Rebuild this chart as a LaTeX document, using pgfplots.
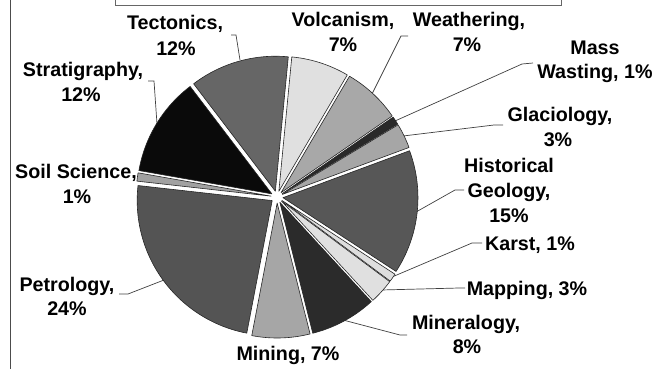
\documentclass[border=0pt]{standalone}
\usepackage{pgfplots}
\pgfplotsset{compat=1.18}
\usepackage{pgfplotstable}
\usepackage{fontspec}
\setmainfont{Liberation Sans}

% share of each topic (percent) and the grey of its slice (percent white)
\pgfplotstableread[col sep=comma]{
topic,pct,shade
Volcanism,7,88
Weathering,7,66
Mass Wasting,1,16
Glaciology,3,65
Historical Geology,15,34
Karst,1,87
Mapping,3,88
Mineralogy,8,17
Mining,7,65
Petrology,24,33
Soil Science,1,63
Stratigraphy,12,4
Tectonics,12,40
}\shares

\newcommand\lblfont{\fontsize{19.7}{24}\selectfont\bfseries}
\tikzset{
  leader/.style={draw=black!75, line width=0.7pt},
  lbl/.style={anchor=base, inner sep=0pt, font=\lblfont},
}

\begin{document}
\begin{tikzpicture}
\begin{axis}[
  scale only axis, width=668pt, height=369pt,
  xmin=0, xmax=668, ymin=0, ymax=369, y dir=reverse,
  hide axis, clip=false,
]
% pie geometry: centre, radius, explosion offset, first slice angle
\def\pcx{277}\def\pcy{197}\def\R{135}\def\explode{6}\def\startang{5.5}
\pgfplotstablegetrowsof{\shares}\pgfmathtruncatemacro\lastrow{\pgfplotsretval-1}
\def\total{0}
\pgfplotsforeachungrouped \i in {0,...,\lastrow}{%
  \pgfplotstablegetelem{\i}{pct}\of\shares
  \pgfmathsetmacro\total{\total+\pgfplotsretval}}
\pgfmathsetmacro\degper{360/\total}

% leader lines
\draw[leader] (axis cs:240,60) -- (axis cs:236,35) -- (axis cs:231,35);
\draw[leader] (axis cs:372,94) -- (axis cs:401,36) -- (axis cs:408,36);
\draw[leader] (axis cs:395,121) -- (axis cs:522,64) -- (axis cs:533,63);
\draw[leader] (axis cs:403,136) -- (axis cs:494,125) -- (axis cs:503,125);
\draw[leader] (axis cs:416,212) -- (axis cs:455,190) -- (axis cs:464,190);
\draw[leader] (axis cs:392,277) -- (axis cs:472,243) -- (axis cs:482,243);
\draw[leader] (axis cs:381,290) -- (axis cs:459,288) -- (axis cs:465,288);
\draw[leader] (axis cs:343,320) -- (axis cs:400,335) -- (axis cs:407,335);
\draw[leader] (axis cs:164,280) -- (axis cs:128,294) -- (axis cs:119,294);
\draw[leader] (axis cs:157,124) -- (axis cs:154,81) -- (axis cs:148,81);

% exploded slices, clockwise from the top
\def\cum{0}
\pgfplotsforeachungrouped \i in {0,...,\lastrow}{%
  \pgfplotstablegetelem{\i}{pct}\of\shares \let\slval\pgfplotsretval
  \pgfplotstablegetelem{\i}{shade}\of\shares \let\slshade\pgfplotsretval
  \pgfmathsetmacro\sla{\startang+\degper*\cum}
  \pgfmathsetmacro\cum{\cum+\slval}
  \pgfmathsetmacro\slb{\startang+\degper*\cum}
  \pgfmathsetmacro\slm{(\sla+\slb)/2}
  \pgfmathsetmacro\slox{\pcx+\explode*sin(\slm)}
  \pgfmathsetmacro\sloy{\pcy-\explode*cos(\slm)}
  \edef\wedge{\noexpand\addplot[fill=white!\slshade!black, draw=black!85,
      line width=0.6pt, line join=round, domain=\sla:\slb, samples=80]
      ({\slox+\R*sin(x)},{\sloy-\R*cos(x)}) -- (axis cs:\slox,\sloy) -- cycle;}%
  \wedge
}

% labels
\node[lbl] at (axis cs:175,30) {Tectonics,};
\node[lbl] at (axis cs:176,56) {12\%};
\node[lbl] at (axis cs:343,27) {Volcanism,};
\node[lbl] at (axis cs:343,52) {7\%};
\node[lbl] at (axis cs:469,27) {Weathering,};
\node[lbl] at (axis cs:467,52) {7\%};
\node[lbl] at (axis cs:595,55) {Mass};
\node[lbl] at (axis cs:595,78) {Wasting, 1\%};
\node[lbl] at (axis cs:560,121) {Glaciology,};
\node[lbl] at (axis cs:558,146) {3\%};
\node[lbl] at (axis cs:509,172) {Historical};
\node[lbl] at (axis cs:509,197) {Geology,};
\node[lbl] at (axis cs:509,222) {15\%};
\node[lbl] at (axis cs:530,250) {Karst, 1\%};
\node[lbl] at (axis cs:527,295) {Mapping, 3\%};
\node[lbl] at (axis cs:466,329) {Mineralogy,};
\node[lbl] at (axis cs:467,353) {8\%};
\node[lbl] at (axis cs:288,360) {Mining, 7\%};
\node[lbl] at (axis cs:67,291) {Petrology,};
\node[lbl] at (axis cs:67,315) {24\%};
\node[lbl] at (axis cs:76,178) {Soil Science,};
\node[lbl] at (axis cs:77,203) {1\%};
\node[lbl] at (axis cs:83,76) {Stratigraphy,};
\node[lbl] at (axis cs:81,101) {12\%};

% chart frame and title box edges
\draw[black!70, line width=1pt] (axis cs:10,0) -- (axis cs:10,369);
\draw[black!60, line width=1pt] (axis cs:115,0) -- (axis cs:115,6) -- (axis cs:561,6) -- (axis cs:561,0);
\end{axis}
\pgfresetboundingbox
\path[use as bounding box] (current axis.south west) rectangle (current axis.north east);
\end{tikzpicture}
\end{document}
